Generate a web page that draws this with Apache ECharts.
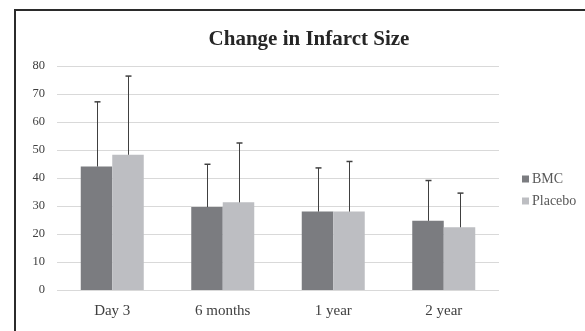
<!DOCTYPE html>
<html><head><meta charset="utf-8">
<script src="https://cdn.jsdelivr.net/npm/echarts@6/dist/echarts.min.js"></script>
<style>html,body{margin:0;padding:0;background:#fff;}#c{width:585px;height:331px;}</style>
</head><body><div id="c"></div>
<script>
const categories = ['Day 3', '6 months', '1 year', '2 year'];
const bmcValues = [44.1, 29.6, 28.0, 24.7];
const placeboValues = [48.3, 31.3, 28.0, 22.4];
const bmcErrorTop = [67.2, 44.9, 43.6, 39.1];
const placeboErrorTop = [76.4, 52.5, 45.9, 34.6];
const yTicks = [0, 80, 10];

const chart = echarts.init(document.getElementById('c'), null, {renderer: 'canvas'});
const font = '"Liberation Serif", "Times New Roman", serif';
const BW = 31.5;

function errSeries(name, vals, tops, offset) {
  return {
    type: 'custom', name: name + ' err', silent: true, z: 5,
    data: categories.map((c, i) => [i, vals[i], tops[i]]),
    renderItem: function (params, api) {
      const p0 = api.coord([api.value(0), api.value(1)]);
      const p1 = api.coord([api.value(0), api.value(2)]);
      const x = Math.round(p0[0] + offset) + 0.5;
      const style = {stroke: '#404040', lineWidth: 1};
      return {type: 'group', children: [
        {type: 'line', shape: {x1: x, y1: p0[1], x2: x, y2: p1[1]}, style: style},
        {type: 'line', shape: {x1: x - 3, y1: p1[1], x2: x + 3, y2: p1[1]}, style: {stroke: '#404040', lineWidth: 1.5}}
      ]};
    }
  };
}

chart.setOption({
  animation: false,
  backgroundColor: '#fff',
  graphic: [{type: 'rect', shape: {x: 15, y: 10, width: 600, height: 360}, style: {fill: 'none', stroke: '#2b2b2b', lineWidth: 2}, z: 100}],
  title: {text: 'Change in Infarct Size', left: 304, textAlign: 'center', top: 24,
    textStyle: {fontFamily: font, fontSize: 21, fontWeight: 'bold', color: '#262626'}},
  legend: {orient: 'vertical', left: 517, top: 167, itemWidth: 7, itemHeight: 7, itemGap: 8,
    data: ['BMC', 'Placebo'], icon: 'rect',
    textStyle: {fontFamily: font, fontSize: 14, color: '#595959', padding: [0, 0, 0, -2]}},
  grid: {left: 57, right: 86, top: 66, bottom: 41, containLabel: false},
  xAxis: {type: 'category', data: categories,
    axisLine: {show: false}, axisTick: {show: false},
    axisLabel: {fontFamily: font, fontSize: 15, color: '#404040', margin: 14}},
  yAxis: {type: 'value', min: yTicks[0], max: yTicks[1], interval: yTicks[2],
    axisLine: {show: false}, axisTick: {show: false},
    splitLine: {lineStyle: {color: '#d9d9d9', width: 1}},
    axisLabel: {fontFamily: font, fontSize: 12.5, color: '#404040', margin: 12}},
  series: [
    {type: 'bar', name: 'BMC', data: bmcValues, barWidth: BW, barGap: '0%',
      itemStyle: {color: '#7b7c80'}},
    {type: 'bar', name: 'Placebo', data: placeboValues, barWidth: BW, barGap: '0%',
      itemStyle: {color: '#bdbec2'}},
    errSeries('BMC', bmcValues, bmcErrorTop, -BW / 2),
    errSeries('Placebo', placeboValues, placeboErrorTop, BW / 2)
  ]
});
</script></body></html>
